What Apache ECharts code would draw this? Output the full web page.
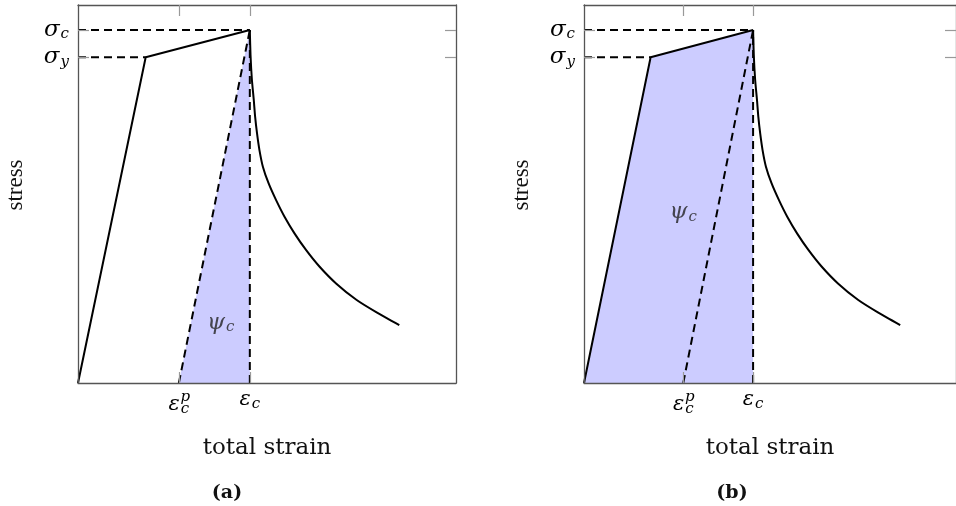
<!DOCTYPE html>
<html>
<head>
<meta charset="utf-8">
<script src="https://cdn.jsdelivr.net/npm/echarts@6/dist/echarts.min.js"></script>
<style>
  html, body { margin: 0; padding: 0; background: #fff; }
  #chart { width: 956px; height: 506px; }
</style>
</head>
<body>
<div id="chart"></div>
<script>
    // strain scaled so that eps_c = 1, stress scaled so that sigma_c = 1
    const loadStrain = [0, 0.394, 1];
    const loadStress = [0, 0.923, 1];
    const softStrain = [1, 1.004, 1.012, 1.023, 1.031, 1.042, 1.056, 1.076, 1.109, 1.153, 1.202, 1.260, 1.327, 1.405, 1.502, 1.622, 1.738, 1.870];
    const softStress = [1, 0.930, 0.860, 0.802, 0.754, 0.707, 0.660, 0.613, 0.566, 0.518, 0.471, 0.424, 0.377, 0.330, 0.282, 0.235, 0.200, 0.164];
    const plasticStrain = 0.587;

    const strainTicks = [plasticStrain, 1];
    const strainLabels = ['{p|p}\n{e|ε}{c|c}', '{e|ε}{c|c}'];
    const stressTicks = [0.923, 1];
    const stressLabels = ['{s|σ}{b|y}', '{s|σ}{b|c}'];
    const panelNames = ['(a)', '(b)'];
    const psiSpots = [[0.83, 0.17], [0.587, 0.484]];

    const XMAX = 2.2, YMAX = 1.071;
    const serif = 'DejaVu Serif';

    function pairs(xs, ys) {
        return xs.map((x, i) => [x, ys[i]]);
    }

    function frameLine() {
        return {show: true, onZero: false, lineStyle: {color: '#555', width: 1.3}};
    }

    function xAxes(grid) {
        return [{
            type: 'value', gridIndex: grid, min: 0, max: XMAX, position: 'bottom', z: 5,
            splitLine: {show: false},
            axisLine: frameLine(),
            axisTick: {show: true, inside: true, length: 11, customValues: strainTicks, lineStyle: {color: '#999', width: 1.2}},
            axisLabel: {
                show: true, margin: 12, customValues: strainTicks,
                formatter: v => strainLabels[strainTicks.indexOf(v)],
                rich: {
                    e: {fontFamily: serif, fontStyle: 'italic', fontSize: 21, lineHeight: 10, color: '#000'},
                    c: {fontFamily: serif, fontStyle: 'italic', fontSize: 15, lineHeight: 10, color: '#000', padding: [9, 0, 0, 1]},
                    p: {fontFamily: serif, fontStyle: 'italic', fontSize: 15, lineHeight: 5, color: '#000', padding: [0, 0, 0, 13]}
                }
            },
            name: 'total strain', nameLocation: 'middle', nameGap: 54,
            nameTextStyle: {fontFamily: serif, fontSize: 23, color: '#111'}
        }, {
            type: 'value', gridIndex: grid, min: 0, max: XMAX, position: 'top', z: 5,
            splitLine: {show: false},
            axisLine: frameLine(),
            axisTick: {show: true, inside: true, length: 11, customValues: strainTicks, lineStyle: {color: '#999', width: 1.2}},
            axisLabel: {show: false}
        }];
    }

    function yAxes(grid) {
        return [{
            type: 'value', gridIndex: grid, min: 0, max: YMAX, position: 'left', z: 5,
            splitLine: {show: false},
            axisLine: frameLine(),
            axisTick: {show: true, inside: true, length: 11, customValues: stressTicks, lineStyle: {color: '#999', width: 1.2}},
            axisLabel: {
                show: true, margin: 9, customValues: stressTicks,
                formatter: v => stressLabels[stressTicks.indexOf(v)],
                rich: {
                    s: {fontFamily: serif, fontStyle: 'italic', fontSize: 23, color: '#000'},
                    b: {fontFamily: serif, fontStyle: 'italic', fontSize: 15, color: '#000', padding: [9, 0, 0, 1]}
                }
            },
            name: 'stress', nameLocation: 'middle', nameGap: 51,
            nameTextStyle: {fontFamily: 'Liberation Serif', fontSize: 23, color: '#111', padding: [0, 0, 0, 18]}
        }, {
            type: 'value', gridIndex: grid, min: 0, max: YMAX, position: 'right', z: 5,
            splitLine: {show: false},
            axisLine: frameLine(),
            axisTick: {show: true, inside: true, length: 11, customValues: stressTicks, lineStyle: {color: '#999', width: 1.2}},
            axisLabel: {show: false}
        }];
    }

    function panelSeries(p) {
        const ax = p * 2;
        const peak = [loadStrain[2], loadStress[2]];
        const yieldPt = [loadStrain[1], loadStress[1]];
        // panel a: only the unloading triangle, panel b: everything under the loading path
        const fill = p === 0 ? [[plasticStrain, 0], peak] : pairs(loadStrain, loadStress);
        const dashed = [
            [[0, yieldPt[1]], yieldPt],
            [[0, peak[1]], peak],
            [[plasticStrain, 0], peak],
            [[peak[0], 0], peak]
        ];
        const out = [];
        out.push({
            type: 'line', xAxisIndex: ax, yAxisIndex: ax, data: fill, symbol: 'none', z: 1,
            lineStyle: {width: 0}, areaStyle: {color: '#ccccff', opacity: 1}, silent: true
        });
        dashed.forEach(d => out.push({
            type: 'line', xAxisIndex: ax, yAxisIndex: ax, data: d, symbol: 'none', z: 3,
            lineStyle: {color: '#000', width: 2, type: [8, 5]}
        }));
        out.push({
            type: 'line', xAxisIndex: ax, yAxisIndex: ax, data: pairs(loadStrain, loadStress), symbol: 'none', z: 4,
            lineStyle: {color: '#000', width: 2}
        });
        out.push({
            type: 'line', xAxisIndex: ax, yAxisIndex: ax, data: pairs(softStrain, softStress), symbol: 'none', z: 4,
            smooth: 0.2,
            lineStyle: {color: '#000', width: 2, join: 'round'}
        });
        out.push({
            type: 'scatter', xAxisIndex: ax, yAxisIndex: ax, data: [psiSpots[p]], symbolSize: 0, z: 6,
            itemStyle: {color: 'transparent'},
            label: {
                show: true, position: 'inside', formatter: '{s|ψ}{b|c}',
                rich: {
                    s: {fontFamily: serif, fontStyle: 'italic', fontSize: 23, color: '#222'},
                    b: {fontFamily: serif, fontStyle: 'italic', fontSize: 15, color: '#222', padding: [9, 0, 0, 1]}
                }
            }
        });
        return out;
    }

    const myChart = echarts.init(document.getElementById('chart'));
    myChart.setOption({
        animation: false,
        backgroundColor: '#fff',
        title: [
            {text: panelNames[0], left: 227, top: 484, padding: 0, textAlign: 'center', textStyle: {fontFamily: serif, fontWeight: 'bold', fontSize: 19, color: '#111'}},
            {text: panelNames[1], left: 732, top: 484, padding: 0, textAlign: 'center', textStyle: {fontFamily: serif, fontWeight: 'bold', fontSize: 19, color: '#111'}}
        ],
        grid: [
            {left: 78, top: 5, width: 378, height: 378},
            {left: 584, top: 5, width: 378, height: 378}
        ],
        xAxis: xAxes(0).concat(xAxes(1)),
        yAxis: yAxes(0).concat(yAxes(1)),
        series: panelSeries(0).concat(panelSeries(1))
    });
</script>
</body>
</html>
